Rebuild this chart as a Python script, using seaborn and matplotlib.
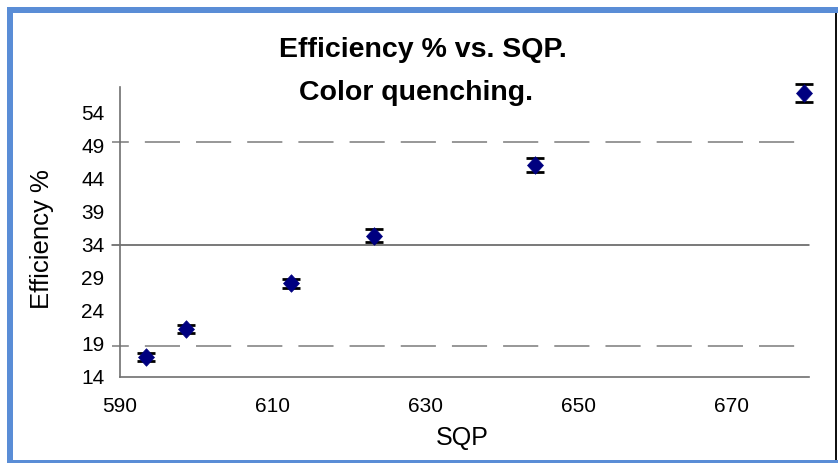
import numpy as np
import pandas as pd
import seaborn as sns
import matplotlib
matplotlib.use("Agg")
import matplotlib.pyplot as plt
from matplotlib.patches import Rectangle

# ---- data ----
sqp = [593.4, 598.7, 612.4, 623.3, 644.3, 679.5]
efficiency = [17.0, 21.3, 28.2, 35.4, 46.1, 57.0]
eff_err = [0.6, 0.6, 0.7, 0.95, 1.1, 1.3]
ref_mean = 34.0
ref_upper = 49.6
ref_lower = 18.7
ref_x = [589.0, 680.2]
x_ticks = [590, 610, 630, 650, 670]
y_ticks = [14, 19, 24, 29, 34, 39, 44, 49, 54]
title_line1 = "Efficiency % vs. SQP."
title_line2 = "Color quenching."
x_label = "SQP"
y_label = "Efficiency %"

df = pd.DataFrame({"SQP": sqp, "Efficiency": efficiency, "err": eff_err})

sns.set_style("white")
plt.rcParams["font.family"] = ["Liberation Sans", "DejaVu Sans"]
plt.rcParams["text.color"] = "black"

W, H = 838, 463
fig = plt.figure(figsize=(W / 100, H / 100), dpi=100)
fig.patch.set_facecolor("white")

def fx(px):
    return px / W

def fy(py):
    return 1 - py / H

ax_l, ax_r, ax_t, ax_b = 120, 809, 87, 377
ax = fig.add_axes([fx(ax_l), fy(ax_b), (ax_r - ax_l) / W, (ax_b - ax_t) / H])
ax.set_facecolor("none")

# reference lines
ax.plot(ref_x, [ref_mean, ref_mean], color="#555555", lw=1.1, zorder=1, clip_on=False)
for lvl in (ref_upper, ref_lower):
    ax.plot(ref_x, [lvl, lvl], color="#7a7a7a", lw=1.1,
            linestyle=(12, (23, 10.5)), zorder=1, clip_on=False)

# error bars
ax.errorbar(df["SQP"], df["Efficiency"], yerr=df["err"], fmt="none",
            ecolor="black", elinewidth=1.4, capsize=6.2, capthick=2.0,
            zorder=2, clip_on=False)

# markers (slightly tall diamond like the reference)
diamond = [(0, 1.1), (1, 0), (0, -1.1), (-1, 0), (0, 1.1)]
sns.scatterplot(data=df, x="SQP", y="Efficiency", marker=diamond, s=160,
                color="#000080", edgecolor="#000080", linewidth=0.5,
                ax=ax, zorder=3, clip_on=False, legend=False)

ax.set_xlim(590, 590 + (ax_r - ax_l) / 7.64)
ax.set_ylim(14, 57.9)
ax.set_xticks(x_ticks)
ax.set_yticks(y_ticks)
ax.set_xlabel("")
ax.set_ylabel("")

for side in ("top", "right"):
    ax.spines[side].set_visible(False)
for side in ("left", "bottom"):
    ax.spines[side].set_color("#707070")
    ax.spines[side].set_linewidth(1.2)

ax.tick_params(axis="both", direction="out", length=4.3, width=1.0,
               color="#707070", labelsize=15, labelcolor="black")
ax.tick_params(axis="y", pad=7)
ax.tick_params(axis="x", pad=10)
ax.grid(False)

# titles and axis labels
tkw = dict(fontsize=20.5, fontweight="bold")
fig.text(fx(423), fy(57), title_line1, ha="center", va="baseline", **tkw)
fig.text(fx(416), fy(100), title_line2, ha="center", va="baseline", **tkw)
fig.text(fx(41.5), fy(239), y_label, rotation=90, ha="center", va="center",
         fontsize=18.5)
fig.text(fx(462), fy(438), x_label, ha="center", va="center", fontsize=18)

# frame around the chart
blue = "#5A8DD6"
def rect_px(x0, y0, x1, y1, color):
    fig.add_artist(Rectangle((fx(x0), fy(y1)), (x1 - x0) / W, (y1 - y0) / H,
                             transform=fig.transFigure, facecolor=color,
                             edgecolor="none", zorder=10))

rect_px(7, 7, 13, 463, blue)      # left
rect_px(7, 7, 838, 13, blue)      # top
rect_px(7, 460, 838, 463, blue)   # bottom
rect_px(835, 13, 837, 460, "#111111")  # right dark edge

fig.savefig("out.png", dpi=100)
